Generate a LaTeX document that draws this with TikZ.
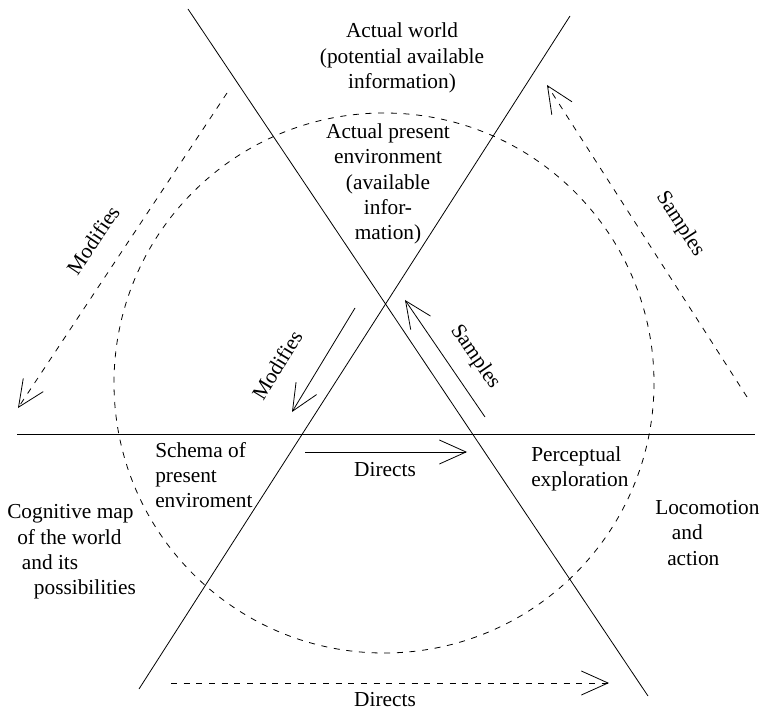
\documentclass[tikz,border=0pt]{standalone}
\usepackage{fontspec}
\setmainfont{Liberation Serif}
\usetikzlibrary{arrows.meta}
\begin{document}
\begin{tikzpicture}[x=0.75pt,y=-0.75pt,
  thinline/.style={line width=0.6pt},
  dashline/.style={line width=0.6pt, dash pattern=on 4.5pt off 5pt},
  vhead/.style={-{Straight Barb[length=20pt,width=18pt,line width=0.6pt]}},
  lbl/.style={font=\fontsize{16}{19}\selectfont, inner sep=0pt},
  ctext/.style={lbl, align=center},
  ltext/.style={lbl, align=left, anchor=west}]
\useasboundingbox (0,0) rectangle (764,709);

% the two crossing lines and the horizon
\coordinate (a1) at (188,9);
\coordinate (a2) at (648,696);
\coordinate (b1) at (570,16);
\coordinate (b2) at (139,689);
\coordinate (h1) at (17,434);
\coordinate (h2) at (755,434);
\draw[thinline] (a1) -- (a2);
\draw[thinline] (b1) -- (b2);
\draw[thinline] (h1) -- (h2);

% the perceptual cycle
\coordinate (cc) at (384,383);
\draw[dashline] (cc) circle[radius=270];

% outer cycle arrows
\coordinate (mo1) at (227,93);
\coordinate (mo2) at (18,408);
\draw[dashline, vhead] (mo1) -- (mo2);
\coordinate (so1) at (747,397);
\coordinate (so2) at (547,85);
\draw[dashline, vhead] (so1) -- (so2);
\coordinate (do1) at (171,683);
\coordinate (do2) at (609,683);
\draw[dashline, vhead] (do1) -- (do2);

% inner cycle arrows
\coordinate (mi1) at (355,308);
\coordinate (mi2) at (292,412);
\draw[thinline, vhead] (mi1) -- (mi2);
\coordinate (si1) at (485,417);
\coordinate (si2) at (405,300);
\draw[thinline, vhead] (si1) -- (si2);
\coordinate (di1) at (305,452);
\coordinate (di2) at (467,452);
\draw[thinline, vhead] (di1) -- (di2);

% labels
\node[ctext] (world) at (402,58) {Actual world\\(potential available\\information)};
\node[ctext] (env) at (388,184) {Actual present\\environment\\(available\\infor-\\mation)};
\node[ltext] (schema) at (155,475) {Schema of\\present\\enviroment};
\node[ltext] (perc) at (531,469) {Perceptual\\exploration};
\node[ltext] (cog) at (7,552) {Cognitive map\\\hspace*{7.5pt}of the world\\\hspace*{11pt}and its\\\hspace*{20pt}possibilities};
\node[ltext] (loco) at (655,533) {Locomotion\\\hspace*{12.5pt}and\\\hspace*{9pt}action};
\node[ctext] (dirin) at (385,470) {Directs};
\node[ctext] (dirout) at (385,700) {Directs};
\node[ctext, rotate=56] (modout) at (93,240) {Modifies};
\node[ctext, rotate=-57] (sampout) at (680,224) {Samples};
\node[ctext, rotate=58.6] (modin) at (277,365) {Modifies};
\node[ctext, rotate=-55.6] (sampin) at (475,357) {Samples};
\end{tikzpicture}
\end{document}
